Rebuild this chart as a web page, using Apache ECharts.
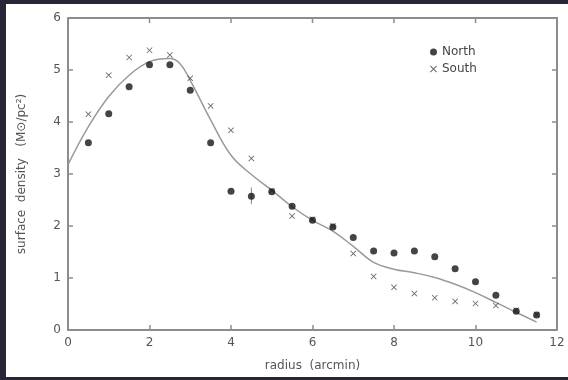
<!DOCTYPE html>
<html>
<head>
<meta charset="utf-8">
<script src="https://cdn.jsdelivr.net/npm/echarts@6/dist/echarts.min.js"></script>
<style>
  html, body { margin: 0; padding: 0; background: #262637; width: 568px; height: 380px; overflow: hidden; }
  #main { position: absolute; left: 6px; top: 4px; width: 562px; height: 373px; background: #ffffff; }
  #err { position: absolute; left: 8px; top: 360px; font: 9px monospace; color: #c00; }
</style>
</head>
<body>
<div id="main"></div>
<div id="err"></div>
<script>
window.onerror = function (msg) { document.getElementById('err').textContent += ' ' + msg; };

// radius (arcmin) of the measured points
var radius = [0.5, 1, 1.5, 2, 2.5, 3, 3.5, 4, 4.5, 5, 5.5, 6, 6.5, 7, 7.5, 8, 8.5, 9, 9.5, 10, 10.5, 11, 11.5];
var north = [3.60, 4.16, 4.68, 5.10, 5.10, 4.61, 3.60, 2.67, 2.57, 2.66, 2.38, 2.11, 1.98, 1.78, 1.52, 1.48, 1.52, 1.41, 1.18, 0.93, 0.67, 0.36, 0.29];
var south = [4.15, 4.90, 5.24, 5.38, 5.29, 4.84, 4.31, 3.84, 3.30, 2.68, 2.19, 2.13, 2.00, 1.47, 1.03, 0.82, 0.70, 0.62, 0.55, 0.51, 0.47, 0.38, 0.30];
// model curve
var fitR = [0, 0.5, 1, 1.5, 2, 2.5, 2.75, 3, 3.5, 4, 4.5, 5, 5.5, 6, 6.5, 7, 7.5, 8, 8.5, 9, 9.5, 10, 10.5, 11, 11.5];
var fitY = [3.18, 3.91, 4.49, 4.90, 5.16, 5.22, 5.12, 4.80, 4.04, 3.36, 2.99, 2.69, 2.37, 2.11, 1.90, 1.61, 1.30, 1.17, 1.10, 1.01, 0.88, 0.72, 0.53, 0.34, 0.15];
// error bar on the north point at 4.5'
var errR = [4.5];
var errLow = [2.42];
var errHigh = [2.74];
var xTicks = [2, 4, 6, 8, 10];
var yTicks = [1, 2, 3, 4, 5];
var xMax = 12;
var yMax = 6;

var crossPath = 'path://M1,0L5,4L9,0L10,1L6,5L10,9L9,10L5,6L1,10L0,9L4,5L0,1Z';
var axisCol = '#8c8c8c';
var txtCol = '#555';
var font = 'DejaVu Sans';

function zip(a, b) {
    return a.map(function (v, i) { return [v, b[i]]; });
}

var chart = echarts.init(document.getElementById('main'));
var option = {
    animation: false,
    grid: { left: 62, right: 11, top: 14, bottom: 46 },
    legend: {
        data: [
            { name: 'North', icon: 'circle' },
            { name: 'South', icon: crossPath }
        ],
        orient: 'vertical',
        left: 419,
        top: 37,
        itemWidth: 7,
        itemHeight: 7,
        itemGap: 5,
        textStyle: { color: '#444', fontSize: 12, fontFamily: font }
    },
    xAxis: {
        type: 'value',
        min: 0, max: xMax, interval: 2,
        name: 'radius  (arcmin)',
        nameLocation: 'middle',
        nameGap: 30,
        nameTextStyle: { color: txtCol, fontSize: 12, fontFamily: font },
        axisLine: { onZero: false, lineStyle: { color: axisCol, width: 2 } },
        axisTick: { inside: true, length: 5, lineStyle: { color: axisCol, width: 1.5 } },
        axisLabel: { color: txtCol, fontSize: 12, fontFamily: font, margin: 7 },
        splitLine: { show: false }
    },
    yAxis: {
        type: 'value',
        min: 0, max: yMax, interval: 1,
        name: 'surface  density   (M\u2299/pc\u00b2)',
        nameLocation: 'middle',
        nameGap: 40,
        nameRotate: 90,
        nameTextStyle: { color: txtCol, fontSize: 12, fontFamily: font },
        axisLine: { show: true, onZero: false, lineStyle: { color: axisCol, width: 2 } },
        axisTick: { show: true, inside: true, length: 5, lineStyle: { color: axisCol, width: 1.5 } },
        axisLabel: { color: txtCol, fontSize: 12, fontFamily: font, margin: 7 },
        splitLine: { show: false }
    },
    series: [{
        name: 'fit',
        type: 'line',
        data: zip(fitR, fitY),
        smooth: 0.4,
        showSymbol: false,
        lineStyle: { color: '#9a9a9a', width: 1.5 }
    }, {
        name: 'North',
        type: 'scatter',
        data: zip(radius, north),
        symbol: 'circle',
        symbolSize: 7,
        itemStyle: { color: '#151515' },
        z: 4
    }, {
        name: 'South',
        type: 'scatter',
        data: zip(radius, south),
        symbol: crossPath,
        symbolSize: 6,
        itemStyle: { color: '#444' },
        z: 3
    }, {
        name: 'err',
        type: 'custom',
        data: errR.map(function (r, i) { return [r, errLow[i], errHigh[i]]; }),
        renderItem: function (params, api) {
            var lo = api.coord([api.value(0), api.value(1)]);
            var hi = api.coord([api.value(0), api.value(2)]);
            return {
                type: 'line',
                shape: { x1: lo[0], y1: lo[1], x2: hi[0], y2: hi[1] },
                style: { stroke: '#888', lineWidth: 1 }
            };
        },
        z: 3
    }]
};
chart.setOption(option);

// top and right edges of the box with inward ticks, placed through the axes' scales
var px = function (x, y) { return chart.convertToPixel({ gridIndex: 0 }, [x, y]); };
var topLeft = px(0, yMax), topRight = px(xMax, yMax), botRight = px(xMax, 0);
var frame = [{
    type: 'polyline',
    z: 50,
    silent: true,
    shape: { points: [topLeft, topRight, botRight] },
    style: { stroke: axisCol, lineWidth: 2, fill: null }
}];
xTicks.forEach(function (t) {
    var p = px(t, yMax);
    frame.push({ type: 'line', z: 50, silent: true,
        shape: { x1: p[0], y1: p[1], x2: p[0], y2: p[1] + 5 },
        style: { stroke: axisCol, lineWidth: 1.5 } });
});
yTicks.forEach(function (t) {
    var p = px(xMax, t);
    frame.push({ type: 'line', z: 50, silent: true,
        shape: { x1: p[0], y1: p[1], x2: p[0] - 5, y2: p[1] },
        style: { stroke: axisCol, lineWidth: 1.5 } });
});
chart.setOption({ graphic: frame });
</script>
</body>
</html>
